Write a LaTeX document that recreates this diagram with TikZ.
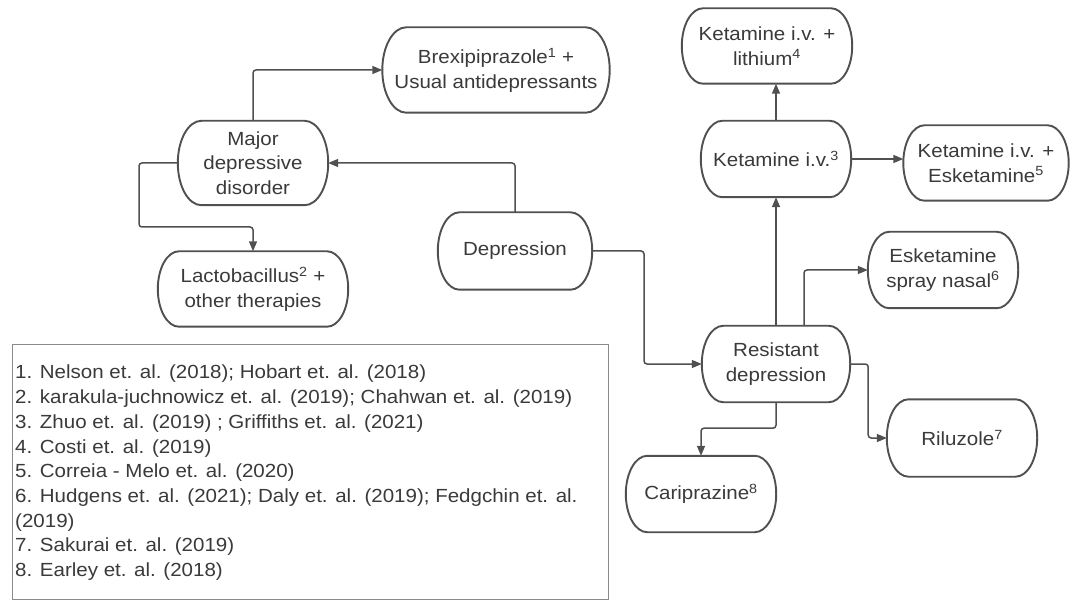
\documentclass[tikz,border=0pt]{standalone}
\usepackage{fontspec}
\setmainfont{Liberation Sans}[FakeStretch=1.08]
\usetikzlibrary{arrows.meta,calc}
\definecolor{linegray}{HTML}{505050}
\definecolor{textgray}{HTML}{3A3A3A}
\definecolor{boxgray}{HTML}{8A8A8A}
\newcommand\drawpill[1]{%
  \draw[pillline] let \p1=(#1.north west), \p2=(#1.south east),
    \n1={abs(\y1-\y2)/2}, \n2={0.56*abs(\y1-\y2)/2} in
    ($(#1.north west)+(\n2,0)$) -- ($(#1.north east)-(\n2,0)$)
    arc[start angle=90, end angle=-90, x radius=\n2, y radius=\n1]
    -- ($(#1.south west)+(\n2,0)$)
    arc[start angle=270, end angle=90, x radius=\n2, y radius=\n1] -- cycle;}
\begin{document}
\begin{tikzpicture}[x=1pt,y=-1pt,
  pill/.style={rectangle, align=center, text=textgray, inner sep=0pt,
    font=\fontsize{19}{24.7}\selectfont},
  pillline/.style={draw=linegray, line width=1.9pt},
  arr/.style={draw=linegray, line width=1.5pt, rounded corners=3pt,
    -{Triangle[length=10pt,width=8pt]}}
]
\useasboundingbox (0,0) rectangle (1070,601);
\fill[white] (0,0) rectangle (1070,601);

% nodes
\node[pill, minimum width=227pt, minimum height=85pt] (brex) at (496,70) {Brexipiprazole\textsuperscript{1} +\\Usual antidepressants};
\node[pill, minimum width=150pt, minimum height=84pt] (mdd) at (253,163) {Major\\depressive\\disorder};
\node[pill, minimum width=190pt, minimum height=75pt] (lacto) at (253,289) {Lactobacillus\textsuperscript{2} +\\other therapies};
\node[pill, minimum width=154pt, minimum height=77pt] (dep) at (515,251) {Depression};
\node[pill, minimum width=148pt, minimum height=76pt] (resist) at (776,364) {Resistant\\depression};
\node[pill, minimum width=170pt, minimum height=75pt] (ketlith) at (767,46) {Ketamine i.v. +\\lithium\textsuperscript{4}};
\node[pill, minimum width=150pt, minimum height=76pt] (ketiv) at (776,159) {Ketamine i.v.\textsuperscript{3}};
\node[pill, minimum width=165pt, minimum height=75pt] (ketesk) at (986,163) {Ketamine i.v. +\\Esketamine\textsuperscript{5}};
\node[pill, minimum width=150pt, minimum height=76pt] (eskspray) at (943,270) {Esketamine\\spray nasal\textsuperscript{6}};
\node[pill, minimum width=150pt, minimum height=77pt] (rilu) at (962,438) {Riluzole\textsuperscript{7}};
\node[pill, minimum width=150pt, minimum height=76pt] (cari) at (701,494) {Cariprazine\textsuperscript{8}};

% node outlines
\foreach \nd in {brex,mdd,lacto,dep,resist,ketlith,ketiv,ketesk,eskspray,rilu,cari}{\drawpill{\nd}}

% helper coordinates
\coordinate (c1) at (139,227);
\coordinate (c2) at (644,364);

% connectors
\draw[arr] (dep.north) |- (mdd.east);
\draw[arr] (mdd.north) |- (brex.west);
\draw[arr] (mdd.west) -| (c1) -| (lacto.north);
\draw[arr] (dep.east) -| (c2) -- (resist.west);
\draw[arr] (resist.north) -- (ketiv.south);
\draw[arr] (ketiv.north) -- (ketiv.north |- ketlith.south);
\draw[arr] (ketiv.east) -- (ketiv.east -| ketesk.west);
\draw[arr] ([xshift=28pt]resist.north) |- (eskspray.west);
\draw[arr] (resist.east) -- ++(18,0) |- (rilu.west);
\draw[arr] (resist.south) -- ++(0,26) -| (cari.north);

% reference box
\node[draw=boxgray, line width=1.3pt, minimum width=596pt, minimum height=255pt, anchor=north west, inner sep=0pt] (refbox) at (12,344) {};
\node[anchor=north west, inner sep=0pt, align=left, text=textgray,
  font=\fontsize{19}{24.7}\selectfont] (reftext) at (15,365) {%
1. Nelson et. al. (2018); Hobart et. al. (2018)\\
2. karakula-juchnowicz et. al. (2019); Chahwan et. al. (2019)\\
3. Zhuo et. al. (2019) ; Griffiths et. al. (2021)\\
4. Costi et. al. (2019)\\
5. Correia - Melo et. al. (2020)\\
6. Hudgens et. al. (2021); Daly et. al. (2019); Fedgchin et. al.\\
(2019)\\
7. Sakurai et. al. (2019)\\
8. Earley et. al. (2018)};
\end{tikzpicture}
\end{document}
